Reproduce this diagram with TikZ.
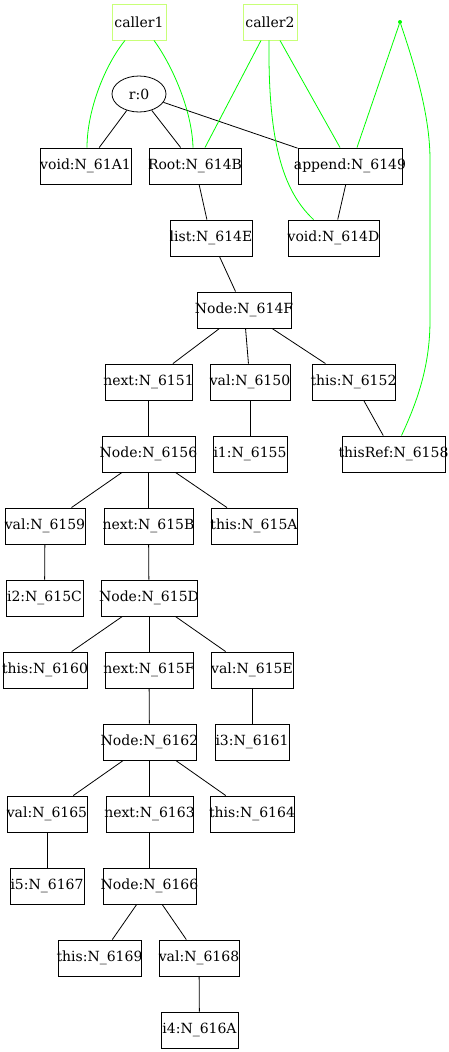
\documentclass[tikz,border=0pt]{standalone}
\usepackage{fontspec}
\setmainfont{DejaVu Serif}
\usetikzlibrary{shapes.geometric}
\definecolor{callercol}{RGB}{200,255,120}
\definecolor{refgreen}{RGB}{0,255,0}
\begin{document}
\begin{tikzpicture}[x=1pt,y=-1pt,
  every node/.style={font=\fontsize{14pt}{16pt}\selectfont, inner sep=0pt},
  obj/.style={draw=black, line width=0.9pt, rectangle, minimum height=36pt, minimum width=#1,
    execute at begin node={\hbox to 0pt\bgroup\hss}, execute at end node={\hss\egroup}},
  caller/.style={draw=callercol, line width=0.9pt, rectangle, minimum height=36pt, minimum width=54pt},
  tree/.style={draw=black, line width=0.8pt},
  gref/.style={draw=refgreen, line width=0.8pt}]
\useasboundingbox (0,0) rectangle (449,1052);
% callers
\node[caller] (c1) at (139,22) {caller1};
\node[caller] (c2) at (270,22) {caller2};
\node[circle, fill=refgreen, inner sep=0pt, minimum size=4pt] (dot) at (400,22) {};
% root ellipse
\node[ellipse, draw=black, line width=0.8pt, minimum width=54pt, minimum height=36pt] (r) at (139,94) {r:0};
% level 1
\node[obj=91pt] (v61A1) at (85.5,166) {void:N\_61A1};
\node[obj=92pt] (root) at (195,166) {Root:N\_614B};
\node[obj=104pt] (app) at (350,166) {append:N\_6149};
% level 2
\node[obj=82pt] (list) at (211,238) {list:N\_614E};
\node[obj=91pt] (v614D) at (333.5,238) {void:N\_614D};
% level 3
\node[obj=94pt] (n614F) at (244,310) {Node:N\_614F};
% level 4
\node[obj=87pt] (nx6151) at (148.5,382) {next:N\_6151};
\node[obj=80pt] (val6150) at (250,382) {val:N\_6150};
\node[obj=83pt] (th6152) at (353.5,382) {this:N\_6152};
% level 5
\node[obj=93pt] (n6156) at (148.5,454) {Node:N\_6156};
\node[obj=74pt] (i1) at (250,454) {i1:N\_6155};
\node[obj=103pt] (tref) at (393.5,454) {thisRef:N\_6158};
% level 6
\node[obj=80pt] (val6159) at (45,526) {val:N\_6159};
\node[obj=89pt] (nx615B) at (148.5,526) {next:N\_615B};
\node[obj=86pt] (th615A) at (254,526) {this:N\_615A};
% level 7
\node[obj=77pt] (i2) at (44.5,598) {i2:N\_615C};
\node[obj=96pt] (n615D) at (149,598) {Node:N\_615D};
% level 8
\node[obj=84pt] (th6160) at (45,670) {this:N\_6160};
\node[obj=88pt] (nx615F) at (149,670) {next:N\_615F};
\node[obj=82pt] (val615E) at (252,670) {val:N\_615E};
% level 9
\node[obj=93pt] (n6162) at (149.5,742) {Node:N\_6162};
\node[obj=74pt] (i3) at (252,742) {i3:N\_6161};
% level 10
\node[obj=80pt] (val6165) at (47,814) {val:N\_6165};
\node[obj=87pt] (nx6163) at (149.5,814) {next:N\_6163};
\node[obj=84pt] (th6164) at (252,814) {this:N\_6164};
% level 11
\node[obj=74pt] (i5) at (47,886) {i5:N\_6167};
\node[obj=93pt] (n6166) at (149.5,886) {Node:N\_6166};
% level 12
\node[obj=83pt] (th6169) at (99.5,958) {this:N\_6169};
\node[obj=80pt] (val6168) at (199,958) {val:N\_6168};
% level 13
\node[obj=77pt] (i4) at (199.5,1030) {i4:N\_616A};
% tree edges
\draw[tree] (r) -- (v61A1);
\draw[tree] (r) -- (root);
\draw[tree] (r) -- (app);
\draw[tree] (root) -- (list);
\draw[tree] (app) -- (v614D);
\draw[tree] (list) -- (n614F);
\draw[tree] (n614F) -- (nx6151);
\draw[tree] (n614F) -- (val6150);
\draw[tree] (n614F) -- (th6152);
\draw[tree] (nx6151) -- (n6156);
\draw[tree] (val6150) -- (i1);
\draw[tree] (th6152) -- (tref);
\draw[tree] (n6156) -- (val6159);
\draw[tree] (n6156) -- (nx615B);
\draw[tree] (n6156) -- (th615A);
\draw[tree] (val6159) -- (i2);
\draw[tree] (nx615B) -- (n615D);
\draw[tree] (n615D) -- (th6160);
\draw[tree] (n615D) -- (nx615F);
\draw[tree] (n615D) -- (val615E);
\draw[tree] (nx615F) -- (n6162);
\draw[tree] (val615E) -- (i3);
\draw[tree] (n6162) -- (val6165);
\draw[tree] (n6162) -- (nx6163);
\draw[tree] (n6162) -- (th6164);
\draw[tree] (val6165) -- (i5);
\draw[tree] (nx6163) -- (n6166);
\draw[tree] (n6166) -- (th6169);
\draw[tree] (n6166) -- (val6168);
\draw[tree] (val6168) -- (i4);
% reference edges
\draw[gref] ([xshift=-14pt]c1.south) .. controls (105,65) and (87,110) .. ([xshift=1.5pt]v61A1.north);
\draw[gref] ([xshift=15pt]c1.south) .. controls (172,65) and (192,110) .. ([xshift=-2pt]root.north);
\draw[gref] ([xshift=-9pt]c2.south) -- ([xshift=10pt]root.north);
\draw[gref] ([xshift=-1pt]c2.south) .. controls (268,140) and (282,190) .. ([xshift=-20pt]v614D.north);
\draw[gref] ([xshift=10pt]c2.south) -- ([xshift=-10pt]app.north);
\draw[gref] (dot) -- ([xshift=7pt]app.north);
\draw[gref] (dot) .. controls (418,75) and (430,120) .. (430,160) -- (430,320) .. controls (430,365) and (418,400) .. ([xshift=8pt]tref.north);
\end{tikzpicture}
\end{document}
